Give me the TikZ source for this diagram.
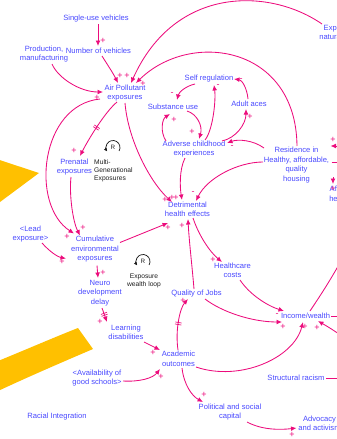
\documentclass[tikz,border=0pt]{standalone}
\usepackage{fontspec}
\setmainfont{Liberation Sans}
\usetikzlibrary{arrows.meta,calc,decorations.markings}
\definecolor{linkpink}{RGB}{236,12,124}
\definecolor{varblue}{RGB}{72,72,255}
\definecolor{bandyellow}{RGB}{255,192,0}
\definecolor{loopink}{RGB}{30,30,30}
\tikzset{
  var/.style={text=varblue, font=\fontsize{7.6}{9.5}\selectfont, align=center, inner sep=0.5pt},
  note/.style={text=loopink, font=\fontsize{6.7}{8}\selectfont, inner sep=0.5pt},
  link/.style={draw=linkpink, line width=0.85pt, -{Latex[length=5.5pt,width=4.8pt]}},
  pol/.style={text=linkpink, font=\fontsize{9}{9}\selectfont, inner sep=0pt},
  delaymark/.style={postaction={decorate, decoration={markings,
      mark=at position #1 with {\draw[linkpink, line width=0.7pt, -] (-1pt,-3.2pt)--(-1pt,3.2pt) (1pt,-3.2pt)--(1pt,3.2pt);}}}},
  loopicon/.style={draw=loopink, line width=0.75pt, -{Latex[length=3.5pt,width=3.5pt]}},
}
\begin{document}
\begin{tikzpicture}[x=1pt,y=-1pt]
\useasboundingbox (0,0) rectangle (337,439);
\clip (0,0) rectangle (337,439);

% background arrow pieces
\fill[bandyellow] (-2,159.5) -- (39,173) -- (-2,203.5) -- cycle;
\fill[bandyellow] (-2,361) .. controls (25,350) and (55,337) .. (78,328) -- (93,349)
  .. controls (65,361) and (30,376) .. (-2,391) -- cycle;

% variables
\node[var] (single) at (96,19) {Single-use vehicles};
\node[var] (production) at (44,54) {Production,\\manufacturing};
\node[var] (number) at (98.5,51) {Number of vehicles};
\node[var] (air) at (125,93) {Air Pollutant\\exposures};
\node[var] (selfreg) at (209,79) {Self regulation};
\node[var] (substance) at (173,107) {Substance use};
\node[var] (adultaces) at (249,104) {Adult aces};
\node[var] (adverse) at (194,149) {Adverse childhood\\experiences};
\node[var] (residence) at (296.5,165) {Residence in\\Healthy, affordable,\\quality\\housing};
\node[var] (prenatal) at (74.5,167) {Prenatal\\exposures};
\node[var] (detrimental) at (187.5,209.5) {Detrimental\\health effects};
\node[var] (lead) at (30.5,234) {<Lead\\exposure>};
\node[var] (cumulative) at (95,249.5) {Cumulative\\environmental\\exposures};
\node[var] (neuro) at (100,293) {Neuro\\development\\delay};
\node[var] (healthcare) at (232.5,270.5) {Healthcare\\costs};
\node[var] (quality) at (196.5,294) {Quality of Jobs};
\node[var] (learning) at (126,332.5) {Learning\\disabilities};
\node[var] (income) at (305.5,316) {Income/wealth};
\node[var] (academic) at (178.5,359) {Academic\\outcomes};
\node[var] (availability) at (97,378) {<Availability of\\good schools>};
\node[var] (structural) at (296,378) {Structural racism};
\node[var] (racial) at (57,417) {Racial Integration};
\node[var] (political) at (230,412) {Political and social\\capital};
\node[var] (advocacy) at (319.5,423.5) {Advocacy\\and activism};
\node[var] (expnat) at (344,33) {Exposure to\\natural spaces};
\node[var] (affhc) at (347,194) {Affordable\\healthcare};

% loop markers
\node[note, font=\fontsize{6.3}{7}\selectfont] (loopA) at (113,147.5) {R};
\draw[loopicon] ($(loopA)+(6.06,3.5)$) arc[start angle=-30, end angle=215, radius=7pt];
\node[note, anchor=west, align=left] (multigen) at (93.5,171) {Multi-\\Generational\\Exposures};
\node[note, font=\fontsize{6.3}{7}\selectfont] (loopB) at (143,261.5) {R};
\draw[loopicon] ($(loopB)+(6.06,3.5)$) arc[start angle=-30, end angle=215, radius=7pt];
\node[note, align=center] (wealthloop) at (144,280.5) {Exposure\\wealth loop};

% free ends beyond the right edge
\coordinate (eastin) at (345,338);
\coordinate (eastup) at (348,248);
\coordinate (eastout) at (350,316);
\coordinate (racismout) at (350,378);
\coordinate (housingin) at (350,146);
\coordinate (housingout) at (350,162);

% causal links
\draw[link] ($(single)+(2,5)$) -- ($(number)+(-0.5,-5)$);
\draw[link] ($(production)+(8,10)$) .. controls (58,78) and (80,92) .. ($(air)+(-22,-1)$);
\draw[link] ($(number)+(3.5,5)$) .. controls (107,64) and (113,73) .. ($(air)+(-7,-10)$);
\draw[link] ($(expnat)+(-22,-9)$) .. controls (270,-12) and (175,-15) .. ($(air)+(6,-10)$);
\draw[link] ($(residence)+(0.5,-19)$) .. controls (296,45) and (190,30) .. ($(air)+(11,-10)$);
\draw[link,delaymark=0.5] ($(air)+(-8,9)$) .. controls (105,112) and (88,140) .. ($(prenatal)+(5.5,-11)$);
\draw[link] ($(air)+(-25,6)$) .. controls (40,105) and (30,205) .. ($(cumulative)+(-21,-16)$);
\draw[link] ($(prenatal)+(-3.5,10)$) .. controls (69,195) and (73,222) .. ($(cumulative)+(-15,-14)$);
\draw[link] ($(lead)+(11.5,9)$) .. controls (50,252) and (58,257) .. ($(cumulative)+(-29,9)$);
\draw[link] ($(cumulative)+(2,16)$) -- ($(neuro)+(-2,-15)$);
\draw[link] ($(cumulative)+(25,-7)$) -- ($(detrimental)+(-19.5,13.5)$);
\draw[link] ($(air)+(0,10)$) .. controls (128,140) and (150,182) .. ($(detrimental)+(-15.5,-7.5)$);
\draw[link] ($(adverse)+(-9,9)$) .. controls (179,170) and (180,188) .. ($(detrimental)+(-5.5,-9.5)$);
\draw[link] ($(residence)+(-33.5,-3)$) .. controls (238,162) and (207,178) .. ($(detrimental)+(8.5,-8.5)$);
\draw[link] ($(residence)+(-32.5,-17)$) .. controls (253,140) and (238,139) .. ($(adverse)+(33,-6)$);
\draw[link] ($(substance)+(14,4)$) .. controls (197,114) and (203,126) .. ($(adverse)+(5,-10)$);
\draw[link] ($(adverse)+(-28,-8)$) .. controls (160,132) and (162,119) .. ($(substance)+(-3,7)$);
\draw[link] ($(selfreg)+(-14,5)$) .. controls (186,86) and (179,92) .. ($(substance)+(4,-7)$);
\draw[link] ($(adverse)+(11,-9)$) .. controls (213,130) and (216,100) .. ($(selfreg)+(5,6)$);
\draw[link] ($(adultaces)+(-1,-5)$) .. controls (247,88) and (242,80) .. ($(selfreg)+(25,0)$);
\draw[link] ($(adverse)+(28,-8)$) .. controls (236,138) and (246,124) .. ($(adultaces)+(-3,5)$);
\draw[link] ($(detrimental)+(5.5,8.5)$) .. controls (199,236) and (210,252) .. ($(healthcare)+(-10.5,-8.5)$);
\draw[link] ($(quality)+(-2.5,-5)$) .. controls (192,265) and (189,240) .. ($(detrimental)+(0.5,9.5)$);
\draw[link] ($(healthcare)+(7.5,9.5)$) .. controls (250,295) and (268,306) .. ($(income)+(-21.5,-5)$);
\draw[link] ($(quality)+(8.5,5)$) .. controls (222,312) and (252,322) .. ($(income)+(-23.5,6)$);
\draw[link] ($(academic)+(17.5,8)$) .. controls (240,382) and (294,358) .. ($(income)+(-2.5,6)$);
\draw[link] (eastin) .. controls (330,328) .. ($(income)+(12.5,5)$);
\draw[link] ($(income)+(4.5,-5)$) .. controls (320,296) and (332,278) .. (eastup);
\draw[link] ($(income)+(25.5,0)$) -- (eastout);
\draw[link] ($(structural)+(30,0)$) -- (racismout);
\draw[link] ($(political)+(17,10)$) .. controls (262,430) and (280,430) .. ($(advocacy)+(-23,4.5)$);
\draw[link] ($(academic)+(3.5,9)$) .. controls (184,385) and (192,396) .. ($(political)+(-27,-10)$);
\draw[link,delaymark=0.5] ($(academic)+(-0.5,-9)$) .. controls (175,330) and (180,308) .. ($(quality)+(-8.5,5)$);
\draw[link] ($(learning)+(18,9.5)$) -- ($(academic)+(-18.5,-9)$);
\draw[link,delaymark=0.45] ($(neuro)+(2,15)$) -- ($(learning)+(-19,-10.5)$);
\draw[link] ($(availability)+(26,3)$) .. controls (140,382) and (153,378) .. ($(academic)+(-18.5,10)$);
\draw[link] (housingin) -- ($(residence)+(34,-19)$);
\draw[link] ($(residence)+(35,-3)$) -- (housingout);
\draw[link] ($(affhc)+(-14,-17)$) -- ($(affhc)+(-14,-10)$);

% link polarities
\node[pol] (p1) at (103,41) {+};
\node[pol] (p2) at (120,76) {+};
\node[pol] (p3) at (127,76) {+};
\node[pol] (p4) at (143,84) {+};
\node[pol] (p5) at (97,98) {+};
\node[pol] (p6) at (74,151) {+};
\node[pol] (p7) at (83,228) {+};
\node[pol] (p8) at (67,237) {+};
\node[pol] (p9) at (62,262) {+};
\node[pol] (p10) at (103,273) {+};
\node[pol] (p11) at (168,228) {+};
\node[pol] (p12) at (165,200) {+};
\node[pol] (p13) at (172,198) {+};
\node[pol] (p14) at (176,198) {+};
\node[pol] (p15) at (193,193) {-};
\node[pol] (p16) at (232,147) {-};
\node[pol] (p17) at (192,132) {+};
\node[pol] (p18) at (174,120) {+};
\node[pol] (p19) at (172,94) {-};
\node[pol] (p20) at (218,86) {-};
\node[pol] (p21) at (241,80) {-};
\node[pol] (p22) at (250,117) {+};
\node[pol] (p23) at (213,260) {+};
\node[pol] (p24) at (182,226) {+};
\node[pol] (p25) at (277,315) {-};
\node[pol] (p26) at (283,327) {+};
\node[pol] (p27) at (305,327) {+};
\node[pol] (p28) at (317,328) {+};
\node[pol] (p29) at (292,435) {+};
\node[pol] (p30) at (204,395) {+};
\node[pol] (p31) at (183,301) {+};
\node[pol] (p32) at (153,353) {+};
\node[pol] (p33) at (100,322) {+};
\node[pol] (p34) at (161,377) {+};
\node[pol] (p35) at (333,140) {+};
\node[pol] (p36) at (333,189) {+};
\end{tikzpicture}
\end{document}
